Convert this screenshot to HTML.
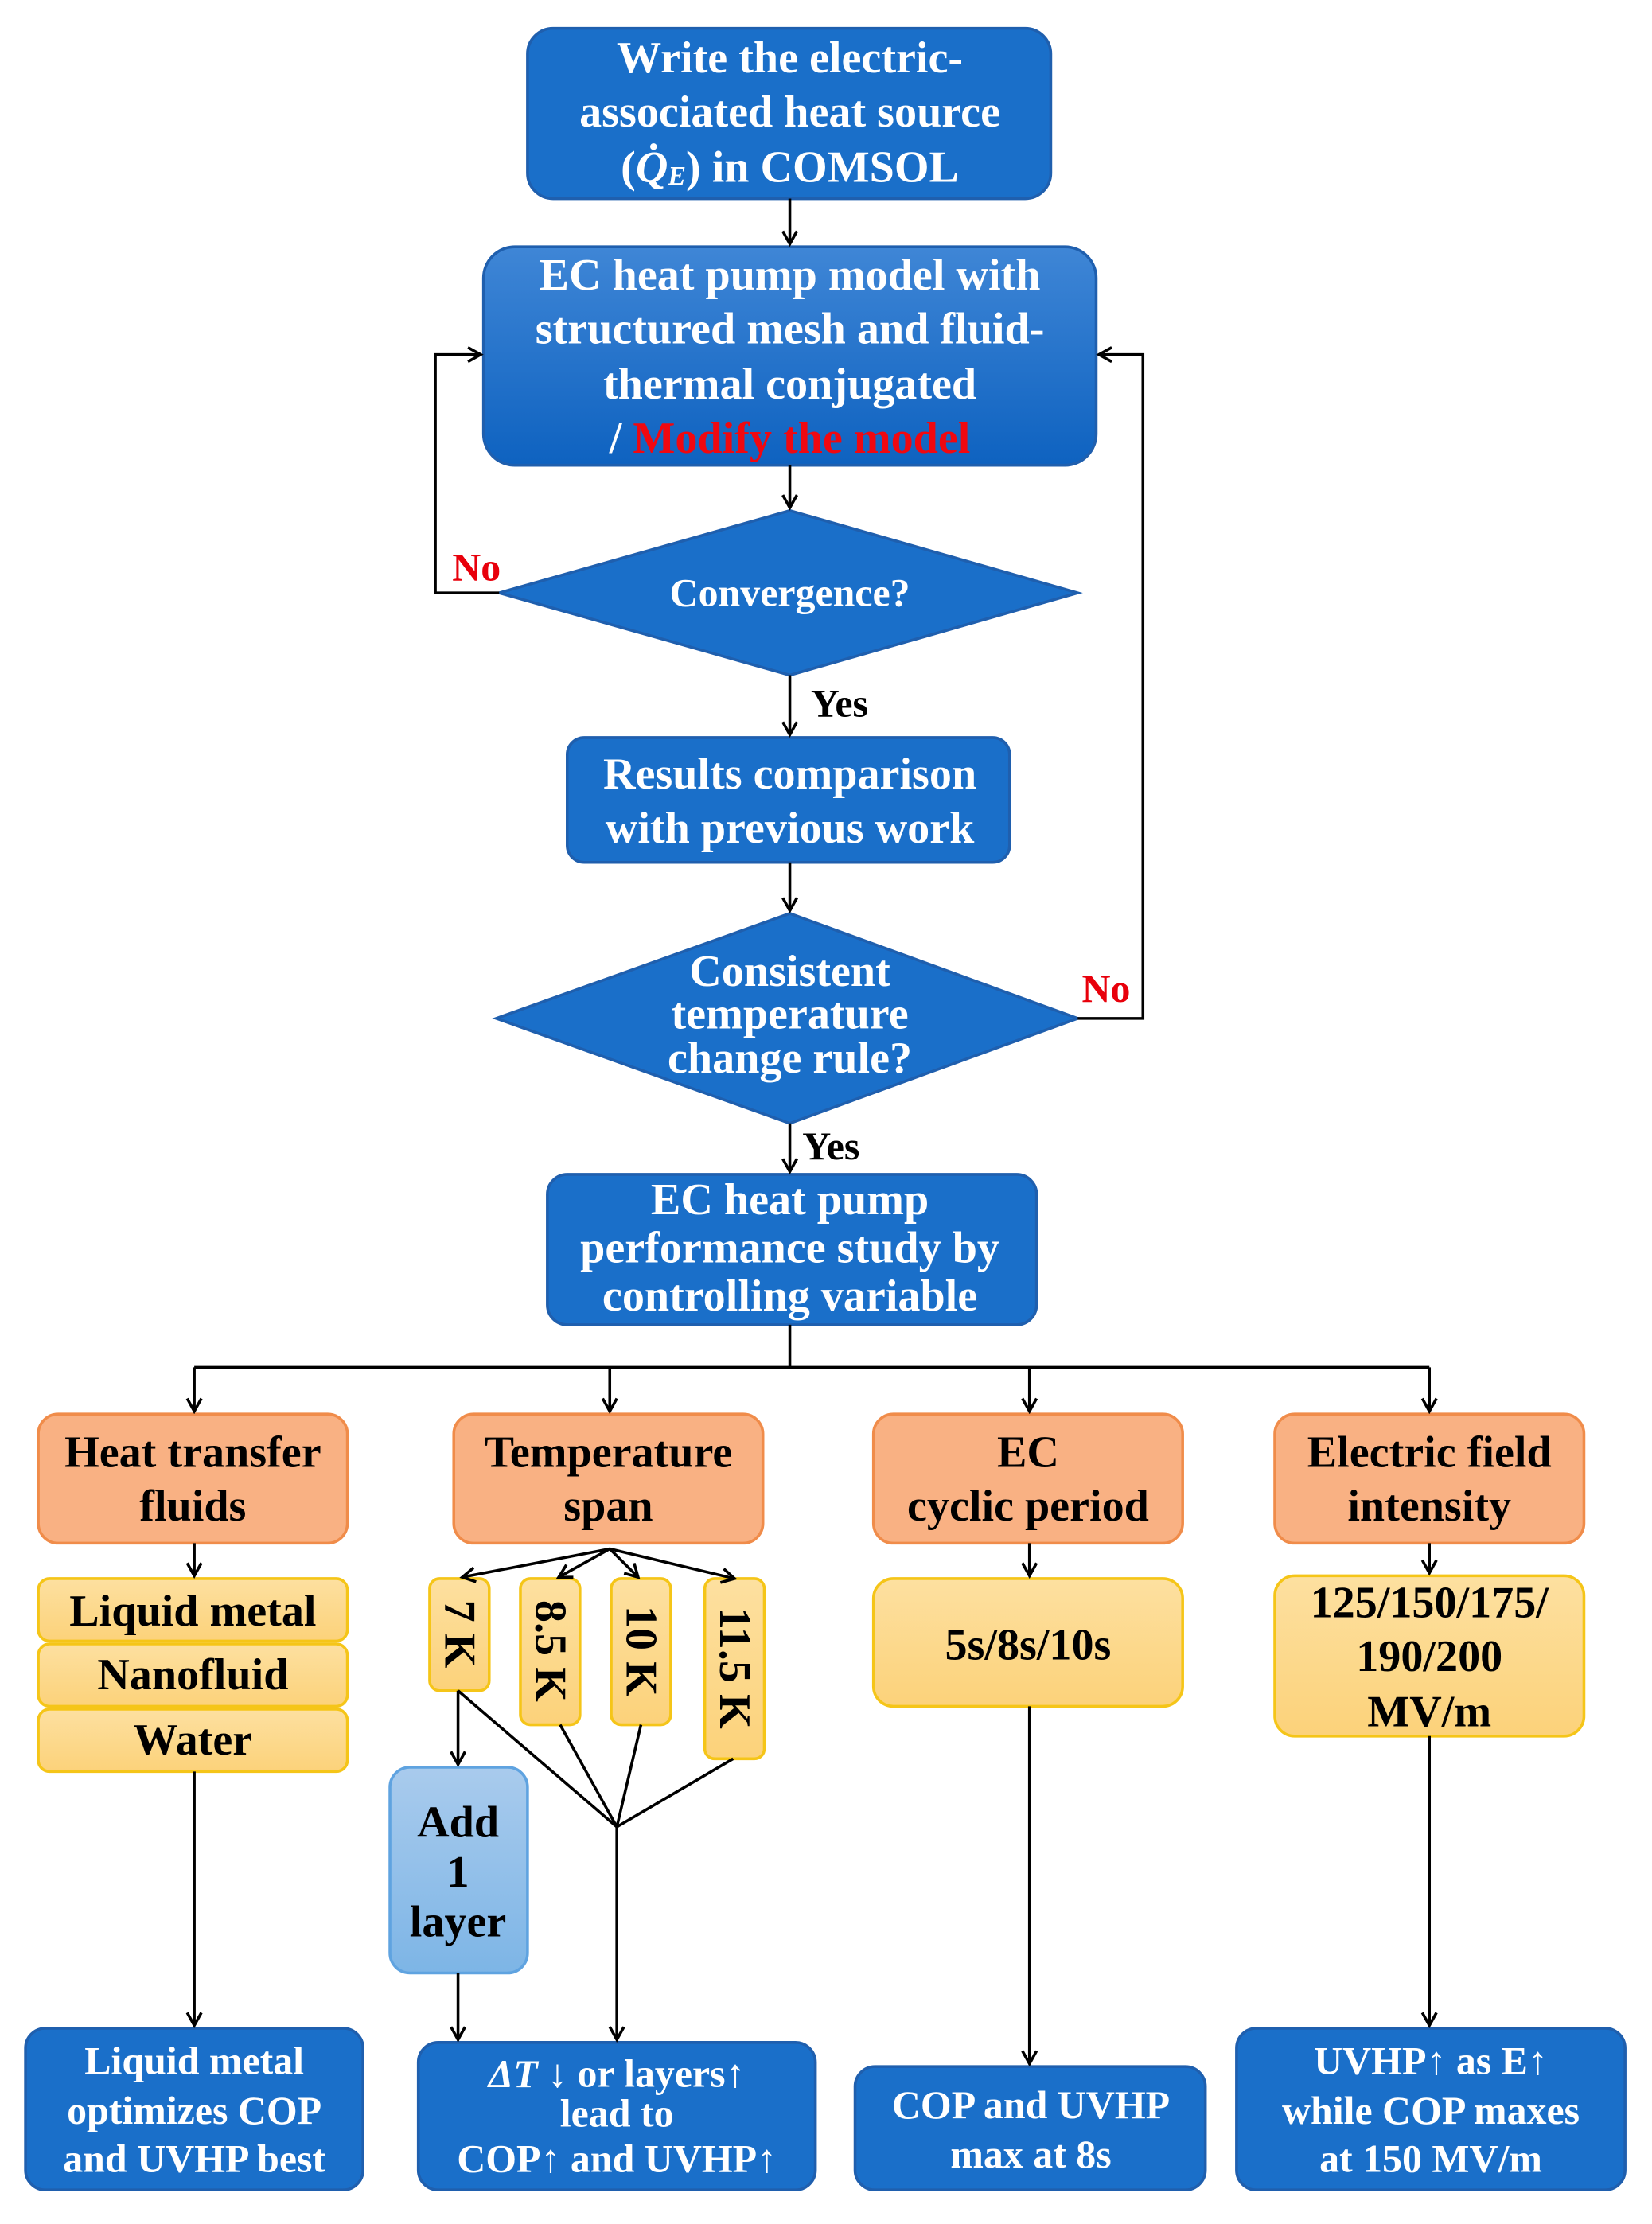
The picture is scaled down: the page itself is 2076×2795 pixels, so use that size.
<!DOCTYPE html>
<html><head><meta charset="utf-8"><style>
html,body{margin:0;padding:0;background:#fff;}
svg{display:block;}
text{font-family:"Liberation Serif",serif;font-weight:bold;text-anchor:middle;dominant-baseline:central;}
.w{fill:#fff;font-size:31.5px;}
.k{fill:#000;font-size:31.5px;}
.s{fill:#fff;font-size:28px;}
</style></head><body>
<svg width="2076" height="2795" viewBox="0 0 1165 1568" preserveAspectRatio="none" xmlns="http://www.w3.org/2000/svg">
<defs>
<marker id="a" markerWidth="12" markerHeight="12" refX="10" refY="6" orient="auto" markerUnits="userSpaceOnUse">
<path d="M1,1 L10,6 L1,11" fill="none" stroke="#000" stroke-width="2"/></marker>
<linearGradient id="bl" x1="0" y1="0" x2="0" y2="1"><stop offset="0" stop-color="#3f86d6"/><stop offset="1" stop-color="#0e62c0"/></linearGradient>
<linearGradient id="lb" x1="0" y1="0" x2="0" y2="1"><stop offset="0" stop-color="#a9cbed"/><stop offset="1" stop-color="#7db5e6"/></linearGradient>
<linearGradient id="yl" x1="0" y1="0" x2="0" y2="1"><stop offset="0" stop-color="#fde0a0"/><stop offset="1" stop-color="#fcd27a"/></linearGradient>
</defs>
<g stroke="#1f5fae" stroke-width="2" fill="#1a6fc9">
<rect x="372" y="20" width="369" height="120" rx="18"/>
<rect x="341" y="174" width="432" height="154" rx="22" fill="url(#bl)"/>
<polygon points="557,360 760,418 557,476 352,418"/>
<rect x="400" y="520" width="312" height="88" rx="12"/>
<polygon points="557,644 760,718 557,792 350,718"/>
<rect x="386" y="828" width="345" height="106" rx="14"/>
<rect x="18" y="1430" width="238" height="114" rx="14"/>
<rect x="295" y="1440" width="280" height="104" rx="14"/>
<rect x="603" y="1457" width="247" height="87" rx="14"/>
<rect x="872" y="1430" width="274" height="114" rx="14"/>
</g>
<g stroke="#f08c4a" stroke-width="2" fill="#f9b183">
<rect x="27" y="997" width="218" height="91" rx="14"/>
<rect x="320" y="997" width="218" height="91" rx="14"/>
<rect x="616" y="997" width="218" height="91" rx="14"/>
<rect x="899" y="997" width="218" height="91" rx="14"/>
</g>
<g stroke="#f5c518" stroke-width="2" fill="url(#yl)">
<rect x="27" y="1113" width="218" height="44" rx="8"/>
<rect x="27" y="1159" width="218" height="44" rx="8"/>
<rect x="27" y="1205" width="218" height="44" rx="8"/>
<rect x="303" y="1113" width="42" height="79" rx="7"/>
<rect x="367" y="1113" width="42" height="103" rx="7"/>
<rect x="431" y="1113" width="42" height="103" rx="7"/>
<rect x="497" y="1113" width="42" height="127" rx="7"/>
<rect x="616" y="1113" width="218" height="90" rx="14"/>
<rect x="899" y="1111" width="218" height="113" rx="14"/>
</g>
<rect x="275" y="1246" width="97" height="145" rx="14" fill="url(#lb)" stroke="#5fa3e0" stroke-width="2"/>
<g stroke="#000" stroke-width="2" fill="none">
<line x1="557" y1="140" x2="557" y2="172" marker-end="url(#a)"/>
<line x1="557" y1="328" x2="557" y2="358" marker-end="url(#a)"/>
<polyline points="352,418 307,418 307,250 339,250" marker-end="url(#a)"/>
<line x1="557" y1="476" x2="557" y2="518" marker-end="url(#a)"/>
<line x1="557" y1="608" x2="557" y2="642" marker-end="url(#a)"/>
<polyline points="760,718 806,718 806,250 775,250" marker-end="url(#a)"/>
<line x1="557" y1="792" x2="557" y2="826" marker-end="url(#a)"/>
<polyline points="557,934 557,964"/>
<line x1="137" y1="964" x2="1008" y2="964"/>
<line x1="137" y1="964" x2="137" y2="995" marker-end="url(#a)"/>
<line x1="430" y1="964" x2="430" y2="995" marker-end="url(#a)"/>
<line x1="726" y1="964" x2="726" y2="995" marker-end="url(#a)"/>
<line x1="1008" y1="964" x2="1008" y2="995" marker-end="url(#a)"/>
<line x1="137" y1="1088" x2="137" y2="1111" marker-end="url(#a)"/>
<line x1="137" y1="1249" x2="137" y2="1428" marker-end="url(#a)"/>
<line x1="430" y1="1092" x2="326" y2="1112" marker-end="url(#a)"/>
<line x1="430" y1="1092" x2="394" y2="1112" marker-end="url(#a)"/>
<line x1="430" y1="1092" x2="450" y2="1112" marker-end="url(#a)"/>
<line x1="430" y1="1092" x2="518" y2="1113" marker-end="url(#a)"/>
<line x1="323" y1="1192" x2="323" y2="1244" marker-end="url(#a)"/>
<line x1="323" y1="1391" x2="323" y2="1438" marker-end="url(#a)"/>
<polyline points="323,1192 435,1288"/>
<polyline points="395,1216 435,1288"/>
<polyline points="452,1216 435,1288"/>
<polyline points="517,1240 435,1288"/>
<line x1="435" y1="1288" x2="435" y2="1438" marker-end="url(#a)"/>
<line x1="726" y1="1088" x2="726" y2="1111" marker-end="url(#a)"/>
<line x1="726" y1="1203" x2="726" y2="1455" marker-end="url(#a)"/>
<line x1="1008" y1="1088" x2="1008" y2="1109" marker-end="url(#a)"/>
<line x1="1008" y1="1224" x2="1008" y2="1428" marker-end="url(#a)"/>
</g>
<text class="w" x="557" y="41">Write the electric-</text>
<text class="w" x="557" y="79">associated heat source</text>
<text class="w" x="557" y="118">(<tspan font-style="italic">Q̇<tspan style="font-size:19px" dy="6">E</tspan></tspan><tspan dy="-6">) in COMSOL</tspan></text>
<text class="w" x="557" y="194">EC heat pump model with</text>
<text class="w" x="557" y="232">structured mesh and fluid-</text>
<text class="w" x="557" y="271">thermal conjugated</text>
<text class="w" x="557" y="309">/ <tspan fill="#f00810">Modify the model</tspan></text>
<text class="w" x="557" y="418" style="font-size:28px">Convergence?</text>
<text x="336" y="400" font-size="28" fill="#e8000b">No</text>
<text x="592" y="496" font-size="28" fill="#000">Yes</text>
<text class="w" x="557" y="546">Results comparison</text>
<text class="w" x="557" y="584">with previous work</text>
<text class="w" x="557" y="685">Consistent</text>
<text class="w" x="557" y="715">temperature</text>
<text class="w" x="557" y="746">change rule?</text>
<text x="780" y="697" font-size="28" fill="#e8000b">No</text>
<text x="586" y="808" font-size="28" fill="#000">Yes</text>
<text class="w" x="557" y="846">EC heat pump</text>
<text class="w" x="557" y="880">performance study by</text>
<text class="w" x="557" y="914">controlling variable</text>
<text class="k" x="136" y="1024">Heat transfer</text>
<text class="k" x="136" y="1062">fluids</text>
<text class="k" x="429" y="1024">Temperature</text>
<text class="k" x="429" y="1062">span</text>
<text class="k" x="725" y="1024">EC</text>
<text class="k" x="725" y="1062">cyclic period</text>
<text class="k" x="1008" y="1024">Electric field</text>
<text class="k" x="1008" y="1062">intensity</text>
<text class="k" x="136" y="1136">Liquid metal</text>
<text class="k" x="136" y="1181">Nanofluid</text>
<text class="k" x="136" y="1227">Water</text>
<text class="k" x="0" y="0" transform="translate(324,1152) rotate(90)">7 K</text>
<text class="k" x="0" y="0" transform="translate(388,1164) rotate(90)">8.5 K</text>
<text class="k" x="0" y="0" transform="translate(452,1164) rotate(90)">10 K</text>
<text class="k" x="0" y="0" transform="translate(518,1176) rotate(90)">11.5 K</text>
<text class="k" x="323" y="1285">Add</text>
<text class="k" x="323" y="1320">1</text>
<text class="k" x="323" y="1355">layer</text>
<text class="k" x="725" y="1160">5s/8s/10s</text>
<text class="k" x="1008" y="1130">125/150/175/</text>
<text class="k" x="1008" y="1168">190/200</text>
<text class="k" x="1008" y="1207">MV/m</text>
<text class="s" x="137" y="1453">Liquid metal</text>
<text class="s" x="137" y="1488">optimizes COP</text>
<text class="s" x="137" y="1522">and UVHP best</text>
<text class="s" x="435" y="1462"><tspan font-style="italic">ΔT</tspan> ↓ or layers↑</text>
<text class="s" x="435" y="1490">lead to</text>
<text class="s" x="435" y="1522">COP↑ and UVHP↑</text>
<text class="s" x="727" y="1484">COP and UVHP</text>
<text class="s" x="727" y="1519">max at 8s</text>
<text class="s" x="1009" y="1453">UVHP↑ as E↑</text>
<text class="s" x="1009" y="1488">while COP maxes</text>
<text class="s" x="1009" y="1522">at 150 MV/m</text>
</svg>
</body></html>
